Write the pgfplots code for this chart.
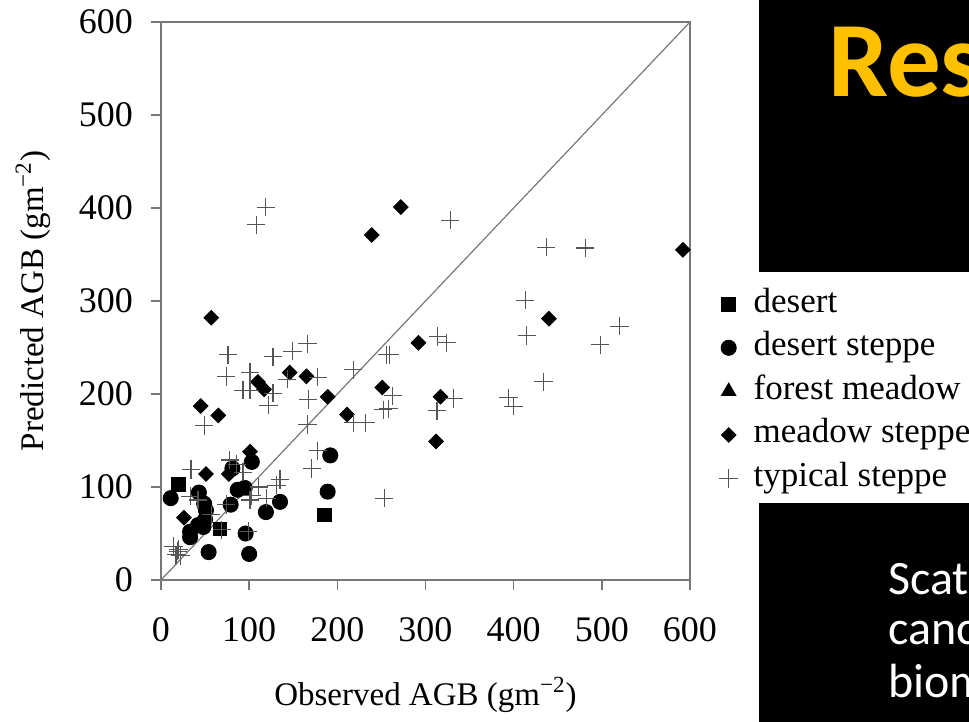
\documentclass[border=0pt]{standalone}
\usepackage{fontspec}
\setmainfont{Liberation Serif}
\newfontfamily\calibri{Carlito}
\usepackage{pgfplots}
\pgfplotsset{compat=1.18}
\definecolor{axisgray}{RGB}{120,120,120}
\definecolor{plusgray}{RGB}{85,85,85}
\definecolor{resgold}{RGB}{255,192,0}

\begin{document}
\begin{tikzpicture}
  % page = 969 x 722 px at 0.5pt per px, axis box lower-left at px (161,580)
  \path[use as bounding box] (-80.5pt,-71pt) rectangle (404pt,290pt);
  \begin{axis}[
    scale only axis, width=264.5pt, height=279pt,
    xmin=0, xmax=600, ymin=0, ymax=600,
    xtick={0,100,...,600}, ytick={0,100,...,600},
    xtick pos=bottom, ytick pos=left,
    tick align=outside, major tick length=5pt,
    axis line style={axisgray, line width=0.8pt},
    tick style={axisgray, line width=0.8pt},
    /pgf/number format/assume math mode=true,
    tick label style={font=\fontsize{18}{20}\selectfont},
    xticklabel style={yshift=-10pt},
    yticklabel style={xshift=-5.5pt},
    xlabel={Observed AGB (gm\textsuperscript{−2})},
    ylabel={Predicted AGB (gm\textsuperscript{−2})},
    label style={font=\fontsize{16.5}{19}\selectfont},
    xlabel style={at={(axis description cs:0.5,-0.206)}, anchor=center},
    ylabel style={at={(axis description cs:-0.242,0.5)}, anchor=center},
    legend cell align=left,
    legend style={at={(1.055,0.338)}, anchor=west, draw=none, fill=none,
      inner sep=0pt, font=\fontsize{17.5}{20}\selectfont,
      nodes={text height=12pt, text depth=4pt, inner sep=2.9pt},
      /tikz/every odd column/.append style={column sep=5pt}},
    clip=false,
  ]
    % 1:1 line
    \addplot[axisgray, line width=0.6pt, forget plot] coordinates {(0,0) (600,600)};
    % desert
    \addplot[only marks, mark=square*, mark size=3.4pt, black] coordinates {
      (20,103) (67,55) (185,70)
    };
    \addlegendentry{desert}
    % desert steppe
    \addplot[only marks, mark=*, mark size=3.8pt, black] coordinates {
      (11,88) (43,94) (49,82) (51,75) (50,65) (42,59) (33,52) (33,46) (48,57)
      (54,30) (79,81) (87,97) (95,99) (81,120) (103,127) (96,50) (100,28)
      (119,73) (135,84) (189,95) (192,134)
    };
    \addlegendentry{desert steppe}
    % forest meadow (no samples shown)
    \addlegendimage{only marks, mark=triangle*, mark size=4.2pt, black}
    \addlegendentry{forest meadow}
    % meadow steppe
    \addplot[only marks, mark=square*, mark options={rotate=45}, mark size=2.6pt, black] coordinates {
      (45,187) (65,177) (57,282) (101,138) (51,114) (77,114) (26,67)
      (110,213) (117,205) (146,223) (165,219) (189,197) (211,178)
      (239,371) (272,401) (251,207) (292,255) (317,197) (312,149)
      (440,281) (592,355)
    };
    \addlegendentry{meadow steppe}
    % typical steppe
    \addplot[only marks, mark=+, mark size=4.6pt, plusgray, mark options={line width=0.55pt}] coordinates {
      (119,401) (108,382) (328,387)
      (76,242) (74,219) (101,223) (127,240) (149,246) (166,254) (178,218)
      (218,226) (143,216) (93,204) (101,204) (122,188) (127,201) (49,166)
      (167,194) (166,167) (218,169) (232,169) (178,139) (171,120)
      (256,242) (259,242) (314,262) (324,255) (263,198) (258,184) (252,183)
      (313,182) (332,195) (394,196) (400,187) (253,88)
      (413,301) (415,263) (437,358) (481,357) (520,273) (498,253) (434,213)
      (34,119) (78,129) (86,124) (93,116) (103,91) (101,86) (111,100)
      (131,102) (135,108) (42,86) (74,81) (57,70) (69,54) (99,52) (120,88)
      (33,90) (14,36) (19,31) (17,27) (22,26) (20,33)
    };
    \addlegendentry{typical steppe}
  \end{axis}
  % slide panels on the right, in pixel units of the reference
  \begin{scope}[x=0.5pt, y=-0.5pt, shift={(-80.5pt,290pt)}]
    \clip (0,0) rectangle (969,722);
    \fill[black] (759,0) rectangle (969,272);
    \fill[black] (759,503) rectangle (969,722);
    \node[anchor=base west, inner sep=0pt, text=resgold,
      font=\calibri\bfseries\fontsize{53.5}{60}\selectfont] at (828,97) {Res};
    \node[anchor=base west, inner sep=0pt, text=white,
      font=\calibri\fontsize{24}{28}\selectfont] at (888,595) {Scat};
    \node[anchor=base west, inner sep=0pt, text=white,
      font=\calibri\fontsize{24}{28}\selectfont] at (888,645) {canc};
    \node[anchor=base west, inner sep=0pt, text=white,
      font=\calibri\fontsize{24}{28}\selectfont] at (888,698) {biom};
  \end{scope}
\end{tikzpicture}
\end{document}
